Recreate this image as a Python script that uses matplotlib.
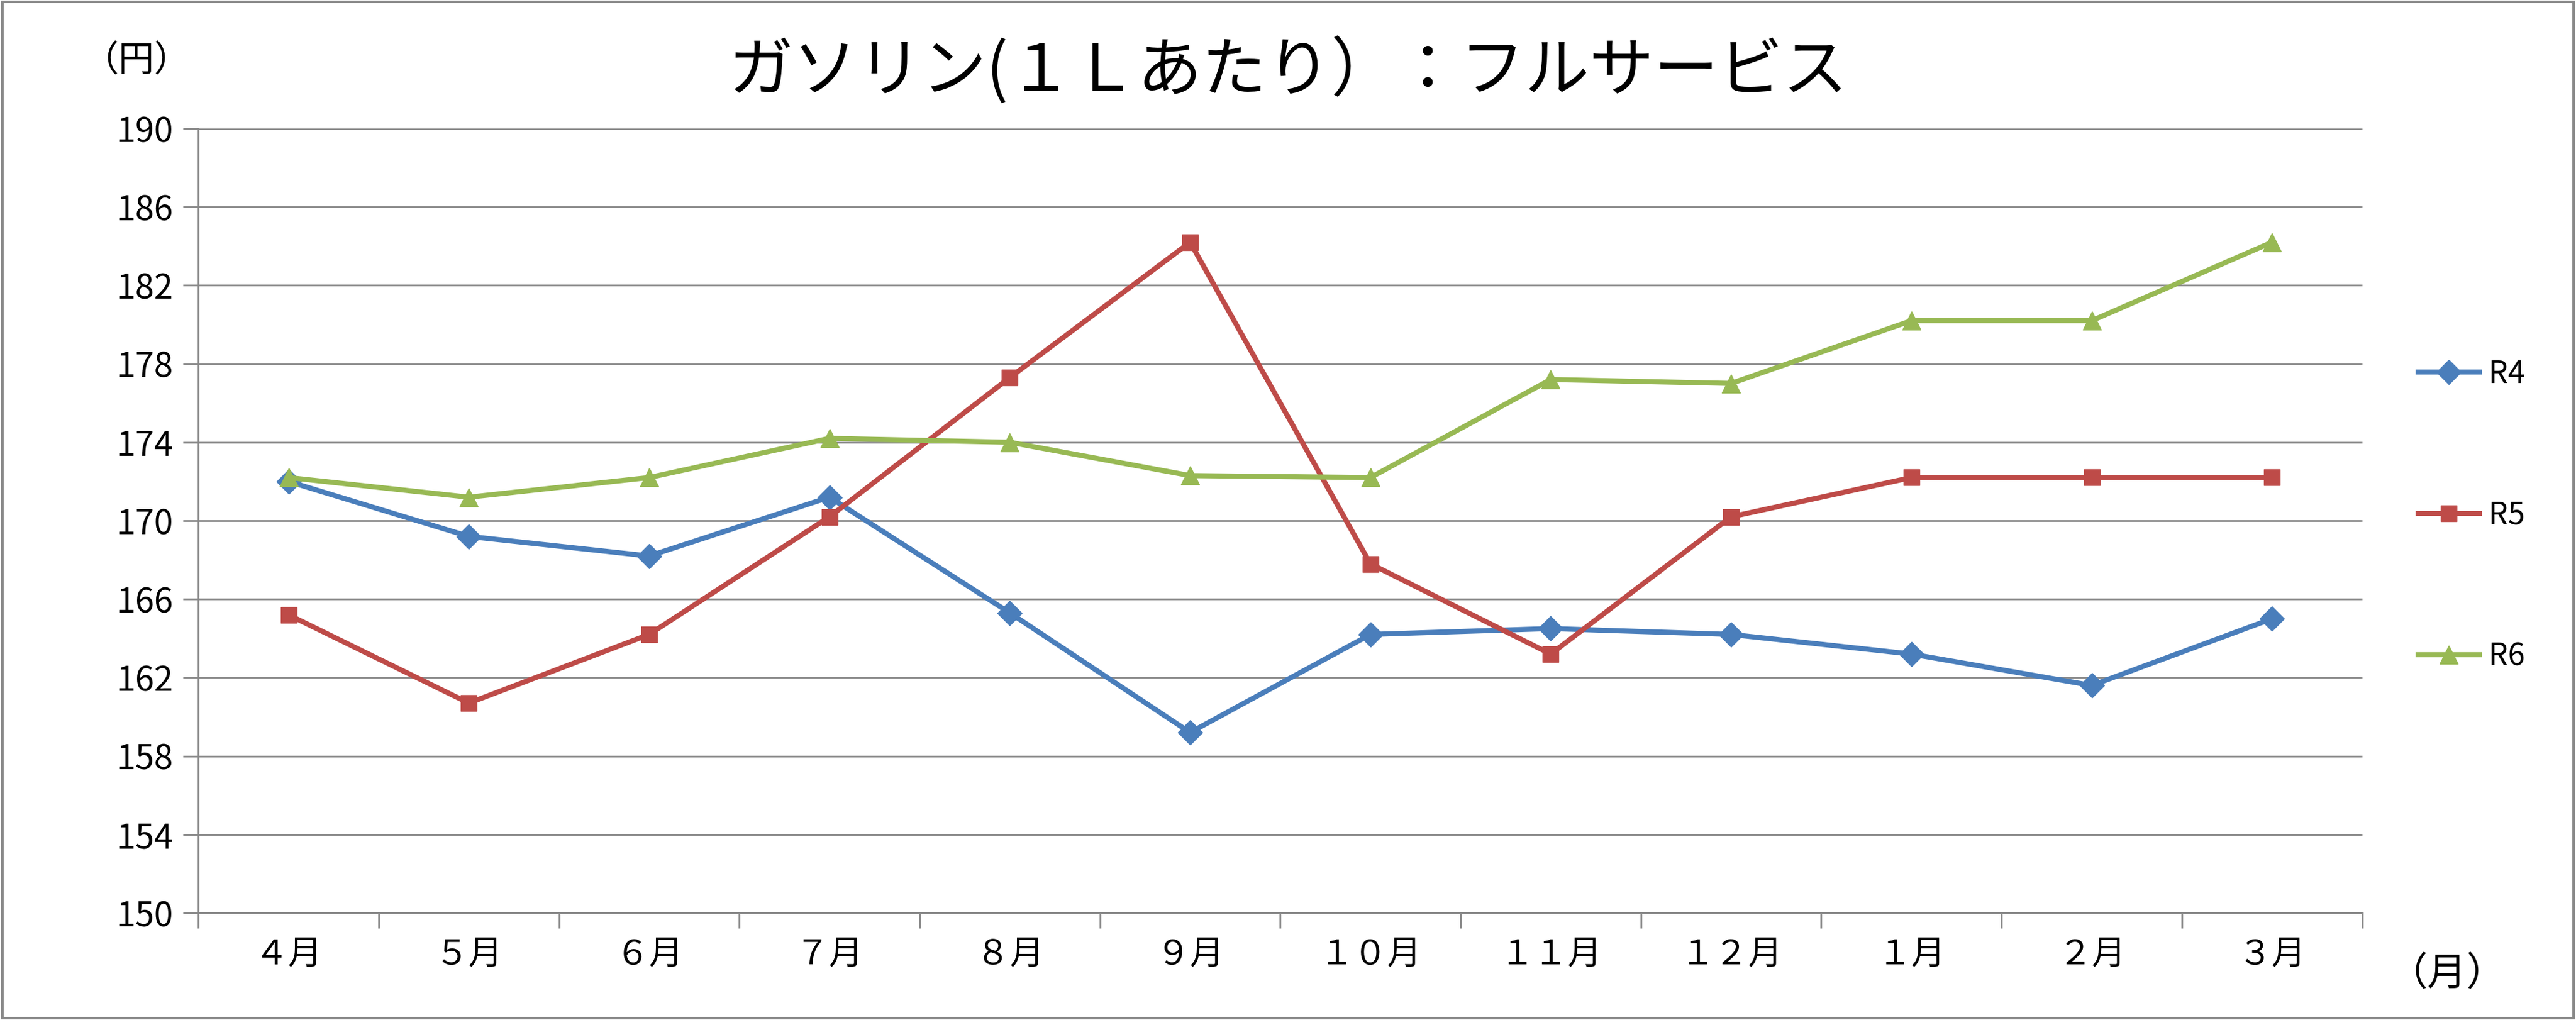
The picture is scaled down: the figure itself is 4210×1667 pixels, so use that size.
import matplotlib
matplotlib.use("Agg")
import matplotlib.pyplot as plt
from matplotlib.patches import Rectangle

plt.rcParams["font.family"] = "Noto Sans CJK JP"

months = ["４月", "５月", "６月", "７月", "８月", "９月", "１０月", "１１月", "１２月", "１月", "２月", "３月"]
r4 = [172.0, 169.2, 168.2, 171.2, 165.3, 159.2, 164.2, 164.5, 164.2, 163.2, 161.6, 165.0]
r5 = [165.2, 160.7, 164.2, 170.2, 177.3, 184.2, 167.8, 163.2, 170.2, 172.2, 172.2, 172.2]
r6 = [172.2, 171.2, 172.2, 174.2, 174.0, 172.3, 172.2, 177.2, 177.0, 180.2, 180.2, 184.2]
yticks = list(range(150, 191, 4))

fig = plt.figure(figsize=(42.10, 16.67), dpi=100)
ax = fig.add_axes([0.077, 0.105, 0.84, 0.769])
x = list(range(len(months)))
ax.plot(x, r4, color="#4A7EBB", lw=6, marker="D", ms=20, label="R4")
ax.plot(x, r5, color="#BE4B48", lw=6, marker="s", ms=19, label="R5")
ax.plot(x, r6, color="#98B954", lw=6, marker="^", ms=22, label="R6")
ax.set_xlim(-0.5, len(months) - 0.5)
ax.set_ylim(150, 190)
ax.set_yticks(yticks)
ax.set_yticklabels([str(v) for v in yticks], fontsize=40)
ax.set_xticks(x)
ax.set_xticklabels(months, fontsize=40)
ax.set_xticks([i - 0.5 for i in range(len(months) + 1)], minor=True)
ax.tick_params(axis="x", which="major", length=0, pad=28)
ax.tick_params(axis="x", which="minor", length=18, width=2, color="#888888")
ax.tick_params(axis="y", length=18, width=2, color="#888888", pad=12)
ax.grid(axis="y", color="#888888", lw=2)
for s in ["top", "right"]:
    ax.spines[s].set_visible(False)
for s in ["left", "bottom"]:
    ax.spines[s].set_color("#888888")
    ax.spines[s].set_linewidth(2)
ax.set_axisbelow(True)

fig.text(0.5, 0.93, "ガソリン(１Ｌあたり）：フルサービス", ha="center", va="center", fontsize=76)
fig.text(0.053, 0.94, "（円）", ha="center", va="center", fontsize=42)
fig.text(0.95, 0.045, "（月）", ha="center", va="center", fontsize=46)

handles, labels = ax.get_legend_handles_labels()
for i, (h, l) in enumerate(zip(handles, labels)):
    fig.legend([h], [l], loc="center left", bbox_to_anchor=(0.928, 0.633 - i * 0.1385),
               frameon=False, fontsize=36, handlelength=2.0, handletextpad=0.3)

fig.add_artist(Rectangle((0.001, 0.002), 0.998, 0.996, transform=fig.transFigure,
                         fill=False, edgecolor="#888888", lw=3))
fig.savefig("out.png", dpi=100)
